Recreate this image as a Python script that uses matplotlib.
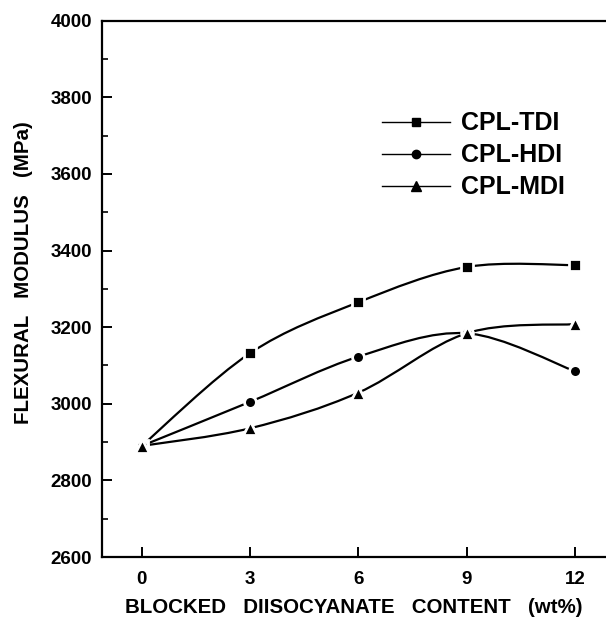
import matplotlib
matplotlib.use("Agg")
import matplotlib.pyplot as plt
from matplotlib.path import Path
from matplotlib.patches import PathPatch
from matplotlib.lines import Line2D
from matplotlib.ticker import MultipleLocator

plt.rcParams['font.family'] = ['Liberation Sans', 'DejaVu Sans']
plt.rcParams['font.weight'] = 'bold'

content = [0, 3, 6, 9, 12]
tdi = [2890, 3132, 3265, 3357, 3362]
hdi = [2890, 3005, 3123, 3184, 3085]
mdi = [2890, 2936, 3029, 3184, 3208]

series = [
    ('CPL-TDI', tdi, 's', 8.0),
    ('CPL-HDI', hdi, 'o', 8.5),
    ('CPL-MDI', mdi, '^', 10.0),
]


def smooth_path(x, y, t=0.5):
    # Catmull-Rom style bezier through the data points
    verts = [(x[0], y[0])]
    codes = [Path.MOVETO]
    n = len(x)
    for i in range(n - 1):
        x0, y0 = (x[i - 1], y[i - 1]) if i > 0 else (x[i], y[i])
        x3, y3 = (x[i + 2], y[i + 2]) if i + 2 < n else (x[i + 1], y[i + 1])
        x1, y1 = x[i], y[i]
        x2, y2 = x[i + 1], y[i + 1]
        c1 = (x1 + (x2 - x0) * t / 3, y1 + (y2 - y0) * t / 3)
        c2 = (x2 - (x3 - x1) * t / 3, y2 - (y3 - y1) * t / 3)
        verts += [c1, c2, (x2, y2)]
        codes += [Path.CURVE4] * 3
    return Path(verts, codes)


fig = plt.figure(figsize=(6.06, 6.25), dpi=100)
ax = fig.add_axes([0.1683, 0.1088, 0.8317, 0.8581])

for name, vals, mk, ms in series:
    ax.add_patch(PathPatch(smooth_path(content, vals), fill=False,
                           edgecolor='black', lw=1.6, zorder=2))
    ax.plot(content, vals, linestyle='none', marker=mk, markersize=ms,
            color='black', markeredgecolor='white', markeredgewidth=2.0,
            zorder=3)

ax.set_xlim(-1.1, 12.86)
ax.set_ylim(2600, 4000)
ax.set_xticks(content)
ax.yaxis.set_major_locator(MultipleLocator(200))
ax.yaxis.set_minor_locator(MultipleLocator(100))
ax.spines['right'].set_visible(False)
for s in ['left', 'bottom', 'top']:
    ax.spines[s].set_linewidth(1.6)

ax.tick_params(axis='both', which='major', direction='in', length=7,
               width=1.4, labelsize=13.5)
ax.tick_params(axis='x', pad=10)
ax.tick_params(axis='y', pad=7)
ax.tick_params(axis='y', which='minor', direction='in', length=4, width=1.2)
ax.tick_params(axis='y', which='both', right=False)
for lab in ax.get_xticklabels() + ax.get_yticklabels():
    lab.set_fontweight('bold')

ax.set_xlabel('BLOCKED   DIISOCYANATE   CONTENT   (wt%)', fontsize=14.8,
              fontweight='bold', labelpad=7)
ax.set_ylabel('FLEXURAL   MODULUS   (MPa)', fontsize=14.8, fontweight='bold')
ax.yaxis.set_label_coords(-0.137, 0.53)

handles = [Line2D([], [], color='black', lw=1.0, marker=mk, markersize=ms - 2.5)
           for name, vals, mk, ms in series]
leg = ax.legend(handles, [s[0] for s in series], loc='upper left',
                bbox_to_anchor=(0.602, 0.85), bbox_transform=fig.transFigure,
                frameon=False, handlelength=2.7, handletextpad=0.45,
                labelspacing=0.32, borderpad=0.2,
                prop={'size': 18, 'weight': 'bold'})

fig.savefig('out.png', dpi=100)
